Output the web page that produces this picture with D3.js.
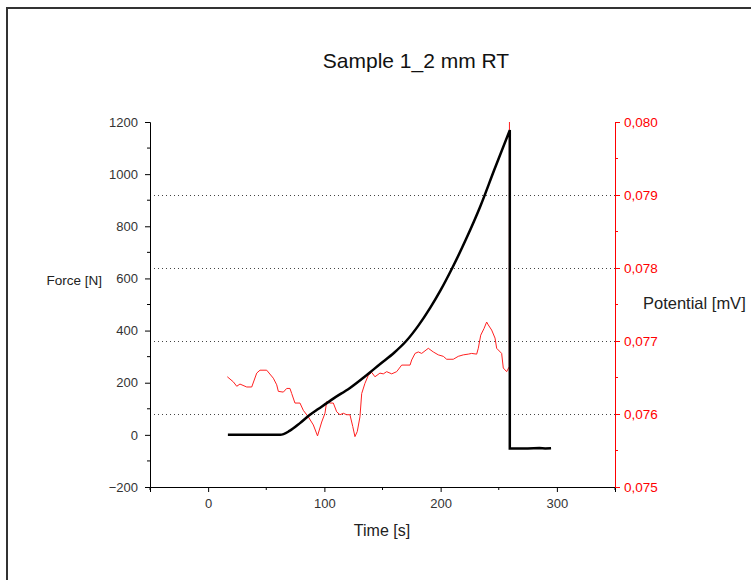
<!DOCTYPE html>
<html>
<head>
<meta charset="utf-8">
<script src="https://cdn.jsdelivr.net/npm/d3@7"></script>
<style>
  body { margin: 0; background: #fff; }
  svg { display: block; font-family: "Liberation Sans", Arial, sans-serif; }
</style>
</head>
<body>
<svg id="chart" width="751" height="580"></svg>
<script>
// Force curve (black)
var forceTime  = [17, 62, 70, 79, 87, 95, 108, 122, 136, 148, 160, 170, 181, 191, 200, 210, 222, 234, 246, 259.5, 259.5, 275, 285, 290, 295];
var forceValue = [0, 0, 15, 45, 75, 100, 140, 180, 228, 272, 315, 358, 420, 487, 555, 640, 752, 875, 1015, 1169, -52, -52, -50, -52, -51];

// Potential curve (red)
var potTime  = [16.5, 21.7, 24.6, 27.4, 33.2, 37.5, 41.8, 44.6, 50.4, 56.1, 59, 60.4, 64.7, 67.6, 70.4, 71.9, 74.7, 79, 81.9, 86.2, 90.5, 94.1,
                97.7, 100.5, 102, 104.8, 107.7, 110.6, 113.4, 116.3, 119.2, 122, 124.4, 126.3, 128.3, 130.6, 132.1, 134.9, 137.8, 140.7,
                143.5, 147.8, 150.7, 153.6, 157.9, 162.2, 166.5, 173.7, 175.1, 178, 180.8, 183.7, 189.4, 193.7, 198, 202.3, 205.2, 210.9,
                215.2, 219.5, 223.8, 226.7, 231, 232.4, 234.5, 237.3, 239.6, 241, 243.9, 246.8, 248.2, 252.5, 253.9, 256.8, 259.1, 259.2];
var potValue = [0.07651, 0.07644, 0.07638, 0.07641, 0.07637, 0.07637, 0.07656, 0.07660, 0.07660, 0.07649, 0.07640, 0.07631, 0.07630, 0.07635, 0.07635, 0.07628, 0.07615, 0.07615, 0.07605, 0.07596, 0.07585, 0.07570,
                0.07589, 0.07601, 0.07617, 0.07615, 0.07615, 0.07603, 0.07599, 0.07601, 0.07599, 0.07599, 0.07583, 0.07569, 0.07576, 0.07596, 0.07628, 0.07642, 0.07653, 0.07657,
                0.07651, 0.07656, 0.07655, 0.07658, 0.07655, 0.07658, 0.07667, 0.07667, 0.07674, 0.07683, 0.07685, 0.07683, 0.07690, 0.07685, 0.07681, 0.07679, 0.07675, 0.07675,
                0.07679, 0.07681, 0.07682, 0.07683, 0.07682, 0.07690, 0.07708, 0.07717, 0.07726, 0.07722, 0.07715, 0.07704, 0.07690, 0.07683, 0.07663, 0.07658, 0.07665, 0.0800];

// Axis ticks
var xTicks = [0, 100, 200, 300];
var xMinor = [-50, 50, 150, 250, 350];
var yTicks = [-200, 0, 200, 400, 600, 800, 1000, 1200];
var yMinor = [-100, 100, 300, 500, 700, 900, 1100];
var vTicks = [0.075, 0.076, 0.077, 0.078, 0.079, 0.080];
var vMinor = [0.0755, 0.0765, 0.0775, 0.0785, 0.0795];
var vGrid  = [0.076, 0.077, 0.078, 0.079];

var svg = d3.select("#chart");
var plot = { left: 150, right: 615, top: 122, bottom: 487 };

var x = d3.scaleLinear().domain([-50, 350]).range([plot.left, plot.right]);
var y = d3.scaleLinear().domain([-200, 1200]).range([plot.bottom, plot.top]);
var yr = d3.scaleLinear().domain([0.075, 0.080]).range([plot.bottom, plot.top]);

// outer frame
svg.append("path")
  .attr("d", "M7,590 V8 H760")
  .attr("fill", "none")
  .attr("stroke", "#333")
  .attr("stroke-width", 2);

// title
svg.append("text")
  .attr("x", 416).attr("y", 68)
  .attr("text-anchor", "middle")
  .style("font-size", "21px")
  .attr("fill", "#111")
  .text("Sample 1_2 mm RT");

// dotted grid lines at right-axis ticks
svg.append("g").selectAll("line")
  .data(vGrid)
  .enter().append("line")
  .attr("x1", plot.left).attr("x2", plot.right)
  .attr("y1", d => Math.round(yr(d)) + 0.5)
  .attr("y2", d => Math.round(yr(d)) + 0.5)
  .attr("stroke", "#444")
  .attr("stroke-dasharray", "1,3");

// bottom axis
var gx = svg.append("g")
  .attr("transform", "translate(0," + plot.bottom + ")")
  .call(d3.axisBottom(x).tickValues(xTicks).tickSize(5).tickFormat(d3.format("d")));
gx.append("g").selectAll("line")
  .data(xMinor).enter().append("line")
  .attr("x1", d => x(d)).attr("x2", d => x(d))
  .attr("y1", 0).attr("y2", 3)
  .attr("stroke", "#000");

// left axis
var gy = svg.append("g")
  .attr("transform", "translate(" + plot.left + ",0)")
  .call(d3.axisLeft(y).tickValues(yTicks).tickSize(5).tickFormat(d3.format("d")));
gy.append("g").selectAll("line")
  .data(yMinor).enter().append("line")
  .attr("y1", d => y(d)).attr("y2", d => y(d))
  .attr("x1", 0).attr("x2", -3)
  .attr("stroke", "#000");

// right axis (red)
var commaFmt = d => d3.format(".3f")(d).replace(".", ",");
var gr = svg.append("g")
  .attr("transform", "translate(" + plot.right + ",0)")
  .call(d3.axisRight(yr).tickValues(vTicks).tickSize(5).tickFormat(commaFmt));
gr.append("g").selectAll("line")
  .data(vMinor).enter().append("line")
  .attr("y1", d => yr(d)).attr("y2", d => yr(d))
  .attr("x1", 0).attr("x2", 3)
  .attr("stroke", "#f00");

[gx, gy].forEach(g => {
  g.selectAll("path, line").attr("stroke", "#000");
  g.selectAll("text").attr("fill", "#333").style("font-size", "13px").style("font-family", "Liberation Sans, Arial, sans-serif");
});
gr.selectAll("path, line").attr("stroke", "#f00");
gr.selectAll("text").attr("fill", "#f00").style("font-size", "13.5px").style("font-family", "Liberation Sans, Arial, sans-serif");
gy.selectAll(".tick text").attr("x", -12);
gr.selectAll(".tick text").attr("x", 9);
gx.selectAll(".tick text").attr("y", 12);

// axis titles
svg.append("text")
  .attr("x", 102).attr("y", 285)
  .attr("text-anchor", "end")
  .style("font-size", "13.5px")
  .attr("fill", "#222")
  .text("Force [N]");

svg.append("text")
  .attr("x", 643).attr("y", 309)
  .style("font-size", "16.5px")
  .attr("fill", "#222")
  .text("Potential [mV]");

svg.append("text")
  .attr("x", 382).attr("y", 536)
  .attr("text-anchor", "middle")
  .style("font-size", "16px")
  .attr("fill", "#222")
  .text("Time [s]");

// potential line
var potData = potTime.map((t, i) => [t, potValue[i]]);
svg.append("path")
  .datum(potData)
  .attr("fill", "none")
  .attr("stroke", "#ff2020")
  .attr("stroke-width", 1)
  .attr("d", d3.line().x(d => x(d[0])).y(d => yr(d[1])));

// force line: smooth rise, then straight drop and tail
var forceData = forceTime.map((t, i) => [t, forceValue[i]]);
var riseEnd = forceTime.indexOf(259.5) + 1;
var smooth = d3.line().x(d => x(d[0])).y(d => y(d[1])).curve(d3.curveMonotoneX);
var straight = d3.line().x(d => x(d[0])).y(d => y(d[1]));
svg.append("path")
  .attr("fill", "none")
  .attr("stroke", "#000")
  .attr("stroke-width", 2.5)
  .attr("d", smooth(forceData.slice(0, riseEnd)) + straight(forceData.slice(riseEnd - 1)).replace("M", "L"));
</script>
</body>
</html>
